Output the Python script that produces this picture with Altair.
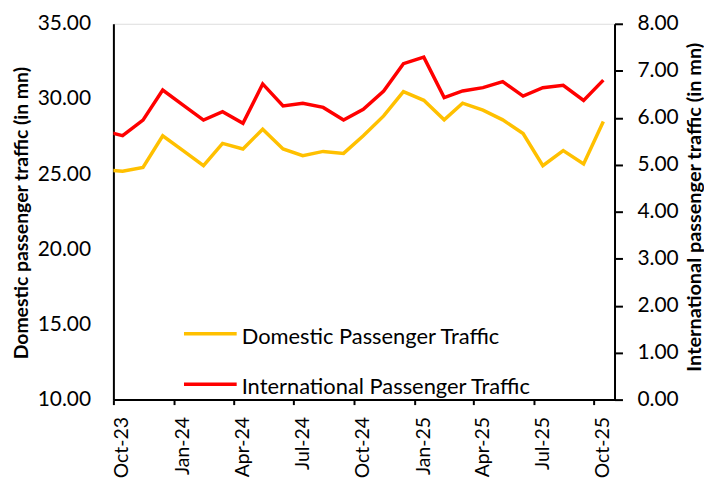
import altair as alt
import pandas as pd

# Month labels (Sep-23 is partly outside the axis range and is clipped at the left edge)
months = ["Sep-23", "Oct-23", "Nov-23", "Dec-23", "Jan-24", "Feb-24", "Mar-24", "Apr-24",
          "May-24", "Jun-24", "Jul-24", "Aug-24", "Sep-24", "Oct-24", "Nov-24", "Dec-24",
          "Jan-25", "Feb-25", "Mar-25", "Apr-25", "May-25", "Jun-25", "Jul-25", "Aug-25",
          "Sep-25", "Oct-25"]
domestic = [25.28, 25.19, 25.45, 27.55, 26.56, 25.56, 27.04, 26.67, 27.99, 26.67, 26.23,
            26.51, 26.38, 27.55, 28.87, 30.48, 29.91, 28.61, 29.72, 29.25, 28.61, 27.70,
            25.56, 26.56, 25.68, 28.50]
international = [5.72, 5.62, 5.95, 6.59, 6.27, 5.95, 6.13, 5.88, 6.72, 6.25, 6.31, 6.22,
                 5.95, 6.18, 6.57, 7.15, 7.29, 6.43, 6.57, 6.64, 6.77, 6.46, 6.64, 6.69,
                 6.37, 6.80]
series = ["Domestic Passenger Traffic", "International Passenger Traffic"]
colors = ["#FFC000", "#FF0000"]
tick_months = [(2023, 10), (2024, 1), (2024, 4), (2024, 7), (2024, 10), (2025, 1),
               (2025, 4), (2025, 7), (2025, 10)]

df = pd.DataFrame({
    "date": pd.to_datetime(["15-" + m for m in months], format="%d-%b-%y"),
    "Domestic": domestic,
    "International": international,
})

FONT = "Lato"
W, H = 504, 378

x_enc = alt.X(
    "date:T",
    scale=alt.Scale(domain=[alt.DateTime(year=2023, month=10, date=1),
                            alt.DateTime(year=2025, month=11, date=1)]),
    axis=alt.Axis(
        values=[alt.DateTime(year=y, month=m, date=1) for y, m in tick_months],
        format="%b-%y", labelAngle=270, labelFont=FONT, labelFontSize=19.5,
        labelColor="black", labelPadding=12, labelOffset=8.5,
        tickColor="black", tickSize=5, tickWidth=2,
        domainColor="black", domainWidth=2, grid=False, title=None,
    ),
)

base = alt.Chart(df)

dom = base.mark_line(color=colors[0], strokeWidth=3.5, clip=True).encode(
    x=x_enc,
    y=alt.Y("Domestic:Q",
            scale=alt.Scale(domain=[10, 35], nice=False, zero=False),
            axis=alt.Axis(values=[10, 15, 20, 25, 30, 35], format=".2f", orient="left",
                          ticks=False, tickSize=0, labelPadding=23,
                          labelFont=FONT, labelFontSize=21, labelColor="black",
                          domainColor="black", domainWidth=2, grid=False,
                          title="Domestic passenger traffic (in mn)",
                          titleFont=FONT, titleFontSize=19.5, titleFontWeight="bold",
                          titleColor="black", titleAngle=270, titleAlign="center",
                          titleBaseline="middle", titleX=-92.5, titleY=190)),
)

intl = base.mark_line(color=colors[1], strokeWidth=3.5, clip=True).encode(
    x=x_enc,
    y=alt.Y("International:Q",
            scale=alt.Scale(domain=[0, 8], nice=False),
            axis=alt.Axis(values=[0, 1, 2, 3, 4, 5, 6, 7, 8], format=".2f", orient="right",
                          tickSize=8, tickWidth=2, tickColor="black", labelPadding=14.5,
                          labelFont=FONT, labelFontSize=21, labelColor="black",
                          domainColor="black", domainWidth=2, grid=False,
                          title="International passenger traffic (in mn)",
                          titleFont=FONT, titleFontSize=20, titleFontWeight="bold",
                          titleColor="black", titleAngle=270, titleAlign="center",
                          titleBaseline="middle", titleX=80, titleY=184)),
)

one = pd.DataFrame({"k": [0]})
legend_layers = []
for name, col, ly, ty in [(series[0], colors[0], 311.8, 322.5),
                          (series[1], colors[1], 362.5, 372.5)]:
    legend_layers.append(
        alt.Chart(one).mark_rule(color=col, strokeWidth=3.5).encode(
            x=alt.value(71), x2=alt.value(124), y=alt.value(ly)))
    legend_layers.append(
        alt.Chart(one).mark_text(align="left", baseline="alphabetic", font=FONT,
                                 fontSize=22, color="black").encode(
            x=alt.value(129), y=alt.value(ty), text=alt.value(name)))

chart = alt.layer(dom, intl, *legend_layers).resolve_scale(y="independent").properties(
    width=W, height=H,
    autosize=alt.AutoSizeParams(type="none"),
    padding={"left": 106, "top": 14.5, "right": 90, "bottom": 84},
).configure_view(stroke=None).configure(background="white")

chart.save("out.html", embed_options={"renderer": "svg", "actions": False})
